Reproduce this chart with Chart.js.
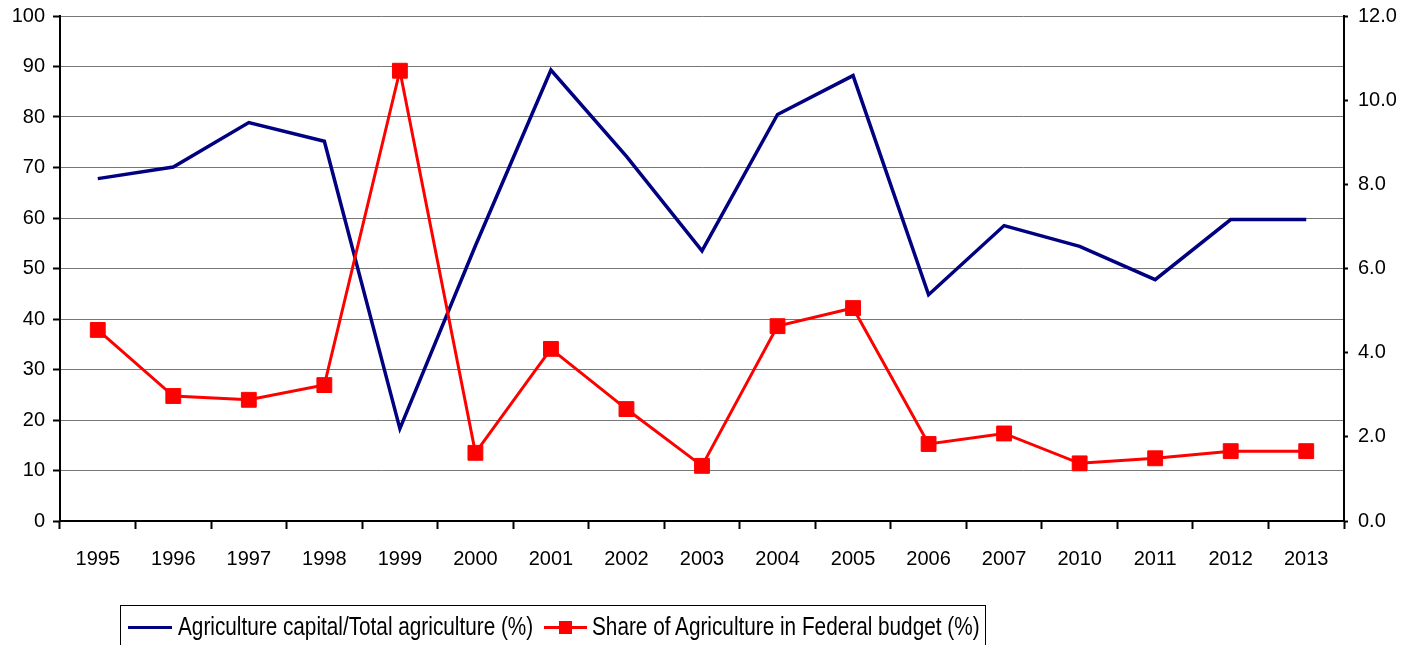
<!DOCTYPE html>
<html>
<head>
<meta charset="utf-8">
<script src="https://cdn.jsdelivr.net/npm/chart.js@4.4.1/dist/chart.umd.min.js"></script>
<style>
  body { margin: 0; background: #fff; overflow: hidden; }
  #wrap { position: relative; width: 1412px; height: 645px; }
  #legend {
    position: absolute; left: 120px; top: 605px; width: 866px; height: 50px;
    border: 1px solid #000; box-sizing: border-box;
    font-family: "Liberation Sans", Arial, sans-serif;
    font-size: 25px; line-height: 28px; color: #000;
  }
  .item { position: absolute; top: 6px; white-space: nowrap; transform: scaleX(0.83); transform-origin: 0 0; }
  .swatch { position: absolute; }
</style>
</head>
<body>
<div id="wrap">
  <canvas id="chart" width="1412" height="645"></canvas>
  <div id="legend">
    <div class="swatch" style="left:7px;top:20px;width:44px;height:3px;background:#000080"></div>
    <div class="item" style="left:57px">Agriculture capital/Total agriculture (%)</div>
    <div class="swatch" style="left:423px;top:20px;width:43px;height:3px;background:#ff0000"></div>
    <div class="swatch" style="left:438px;top:15px;width:13px;height:13px;background:#ff0000"></div>
    <div class="item" style="left:471px">Share of Agriculture in Federal budget (%)</div>
  </div>
</div>
<script>
const years = ['1995', '1996', '1997', '1998', '1999', '2000', '2001', '2002', '2003',
  '2004', '2005', '2006', '2007', '2010', '2011', '2012', '2013'];

// left axis, %
const capitalShare = [67.8, 70.1, 78.9, 75.2, 18.3, 54.5, 89.3, 72.2, 53.5,
  80.5, 88.2, 44.8, 58.5, 54.4, 47.8, 59.7, 59.7];

// right axis, %
const budgetShare = [4.54, 2.97, 2.88, 3.23, 10.7, 1.62, 4.09, 2.66, 1.31,
  4.63, 5.06, 1.83, 2.08, 1.37, 1.49, 1.66, 1.66];

const tickFont = { family: '"Liberation Sans", Arial, sans-serif', size: 20 };

// y axes: fixed width, no extra top/bottom label padding
const fitY = (w) => (scale) => {
  scale.width = w;
  scale.paddingTop = 0;
  scale.paddingBottom = 0;
};

new Chart(document.getElementById('chart'), {
  type: 'line',
  data: {
    labels: years,
    datasets: [
      {
        label: 'Agriculture capital/Total agriculture (%)',
        data: capitalShare,
        yAxisID: 'y',
        borderColor: '#000080',
        backgroundColor: '#000080',
        borderWidth: 3.5,
        pointRadius: 0,
        tension: 0,
        order: 1
      },
      {
        label: 'Share of Agriculture in Federal budget (%)',
        data: budgetShare,
        yAxisID: 'y1',
        borderColor: '#ff0000',
        backgroundColor: '#ff0000',
        borderWidth: 3,
        pointStyle: 'rect',
        pointRadius: 10.5,
        pointBorderWidth: 1,
        tension: 0,
        order: 0
      }
    ]
  },
  options: {
    responsive: false,
    animation: false,
    layout: { padding: { top: 16, left: 0, right: 0, bottom: 0 } },
    plugins: {
      legend: { display: false },
      tooltip: { enabled: false }
    },
    scales: {
      x: {
        offset: true,
        afterFit: (scale) => { scale.height = 124; },
        grid: {
          offset: true,
          drawOnChartArea: false,
          tickLength: 8,
          tickColor: '#000',
          tickWidth: 2
        },
        border: { color: '#000', width: 2 },
        ticks: { color: '#000', font: tickFont, padding: 18, maxRotation: 0 }
      },
      y: {
        position: 'left',
        min: 0,
        max: 100,
        afterFit: fitY(60),
        ticks: { stepSize: 10, color: '#000', font: tickFont, padding: 8 },
        grid: {
          color: '#777',
          lineWidth: 1,
          borderDash: [1, 1],
          tickColor: '#000',
          tickBorderDash: [],
          tickLength: 7,
          tickWidth: 2
        },
        border: { color: '#000', width: 2 }
      },
      y1: {
        position: 'right',
        min: 0,
        max: 12,
        afterFit: fitY(68),
        ticks: {
          stepSize: 2,
          color: '#000',
          font: tickFont,
          padding: 10,
          callback: (v) => v.toFixed(1)
        },
        grid: {
          drawOnChartArea: false,
          tickColor: '#000',
          tickLength: 4,
          tickWidth: 2
        },
        border: { color: '#000', width: 2 }
      }
    }
  }
});
</script>
</body>
</html>
